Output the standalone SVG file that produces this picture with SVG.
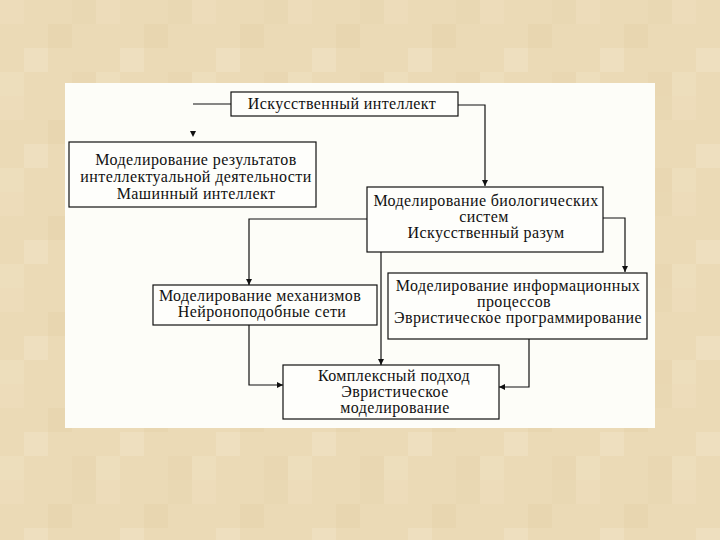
<svg xmlns="http://www.w3.org/2000/svg" width="720" height="540" viewBox="0 0 720 540">
<defs>
<style>
.box{fill:#fefefb;stroke:#111;stroke-width:1.2}
.t{font-family:"Liberation Serif","Times New Roman",serif;font-size:16px;letter-spacing:0.4px;fill:#111;text-anchor:middle}
.ln{fill:none;stroke:#111;stroke-width:1.2}
</style>
<marker id="ah" viewBox="0 0 10 10" refX="10" refY="5" markerWidth="6" markerHeight="6" markerUnits="userSpaceOnUse" orient="auto">
<path d="M0,0 L10,5 L0,10 z" fill="#111"/>
</marker>
<pattern id="tex" width="96" height="96" patternUnits="userSpaceOnUse">
<rect width="96" height="96" fill="#ebdab6"/>
<rect x="0" y="0" width="24" height="24" fill="#eddcba"/>
<rect x="48" y="24" width="24" height="24" fill="#e8d6b0"/>
<rect x="24" y="48" width="24" height="24" fill="#eedfbf"/>
<rect x="72" y="72" width="24" height="24" fill="#e9d7b2"/>
<rect x="72" y="0" width="24" height="24" fill="#e9d8b3"/>
<rect x="0" y="72" width="24" height="24" fill="#eddebc"/>
</pattern>
</defs>
<rect width="720" height="540" fill="url(#tex)"/>
<rect x="65" y="83" width="590" height="345" fill="#fdfdf8"/>

<g id="connectors">
<line class="ln" x1="193" y1="104" x2="231" y2="104"/>
<path d="M190,131 L196,131 L193,137 z" fill="#111"/>
<polyline class="ln" points="458,105 485,105 485,186" marker-end="url(#ah)"/>
<polyline class="ln" points="603,218 625,218 625,272" marker-end="url(#ah)"/>
<polyline class="ln" points="367,219 249,219 249,285" marker-end="url(#ah)"/>
<line class="ln" x1="381" y1="252" x2="381" y2="365" marker-end="url(#ah)"/>
<polyline class="ln" points="249,325 249,385 283,385" marker-end="url(#ah)"/>
<polyline class="ln" points="529,339 529,387 499,387" marker-end="url(#ah)"/>
</g>

<g id="ai">
<rect class="box" x="231" y="92" width="227" height="24"/>
<text class="t" x="342" y="109">Искусственный интеллект</text>
</g>
<g id="results">
<rect class="box" x="69" y="142" width="247" height="65"/>
<text class="t" x="196" y="165">Моделирование результатов</text>
<text class="t" x="196" y="182">интеллектуальной деятельности</text>
<text class="t" x="196" y="199">Машинный интеллект</text>
</g>
<g id="bio">
<rect class="box" x="367" y="187" width="236" height="65"/>
<text class="t" x="486" y="206">Моделирование биологических</text>
<text class="t" x="484" y="222">систем</text>
<text class="t" x="486" y="238">Искусственный разум</text>
</g>
<g id="info">
<rect class="box" x="388" y="273" width="259" height="66"/>
<text class="t" x="518" y="291">Моделирование информационных</text>
<text class="t" x="514" y="307">процессов</text>
<text class="t" x="518" y="323">Эвристическое программирование</text>
</g>
<g id="mech">
<rect class="box" x="153" y="285" width="224" height="40"/>
<text class="t" x="260" y="301">Моделирование механизмов</text>
<text class="t" x="262" y="317">Нейроноподобные сети</text>
</g>
<g id="complex">
<rect class="box" x="283" y="365" width="216" height="54"/>
<text class="t" x="394" y="381">Комплексный подход</text>
<text class="t" x="395" y="397">Эвристическое</text>
<text class="t" x="395" y="413">моделирование</text>
</g>
</svg>
